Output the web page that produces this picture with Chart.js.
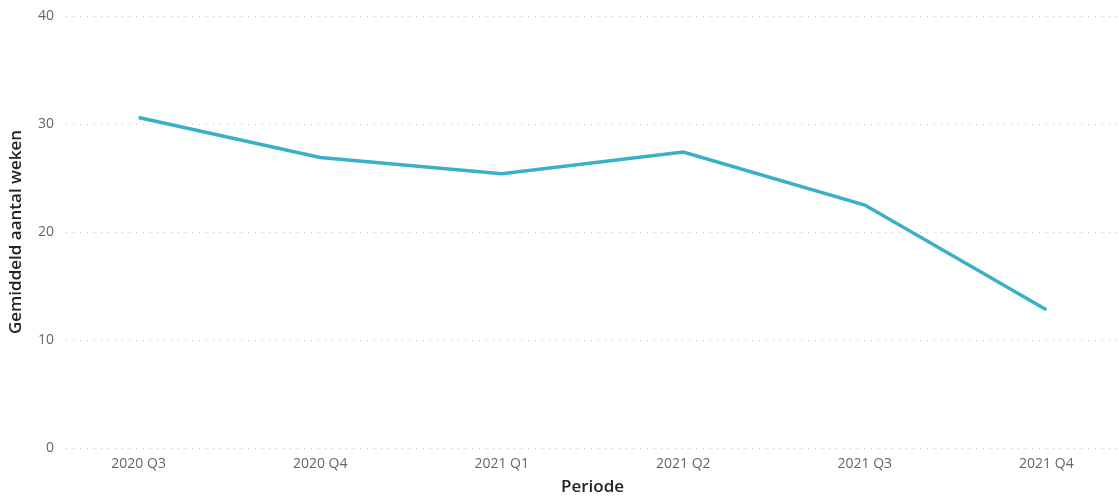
<!DOCTYPE html>
<html>
<head>
<meta charset="utf-8">
<script src="https://cdn.jsdelivr.net/npm/chart.js@4"></script>
<style>
  body { margin: 0; background: #fff; }
  #wrap { width: 1119px; height: 497px; }
</style>
</head>
<body>
<div id="wrap"><canvas id="chart"></canvas></div>
<script>
// data
const periods = ["2020 Q3", "2020 Q4", "2021 Q1", "2021 Q2", "2021 Q3", "2021 Q4"];
const avgWeeks = [30.6, 26.9, 25.4, 27.4, 22.5, 12.8];
const yTicks = [0, 10, 20, 30, 40];

const font = "'Segoe UI', 'Open Sans', 'DejaVu Sans', sans-serif";

// points on a linear x scale so the plot can keep the side padding
let points = periods.map((p, i) => ({x: i, y: avgWeeks[i]}));

new Chart(document.getElementById('chart'), {
	type: 'line',
	data: {
		datasets: [{
			label: 'Gemiddeld aantal weken',
			data: points,
			borderColor: '#3AAFC8',
			borderWidth: 3.5,
			pointRadius: 0,
			tension: 0,
			fill: false
		}]
	},
	options: {
		responsive: true,
		maintainAspectRatio: false,
		animation: false,
		layout: { padding: { top: 16, right: 0 } },
		plugins: {
			legend: { display: false },
			tooltip: { enabled: false }
		},
		scales: {
			x: {
				type: 'linear',
				min: -0.4,
				max: periods.length - 1 + 0.4,
				afterBuildTicks: (axis) => {
					axis.ticks = periods.map((p, i) => ({value: i}));
				},
				afterFit: (axis) => { axis.height = 49; },
				grid: { display: false, drawTicks: false },
				border: { display: false },
				ticks: {
					color: '#666',
					font: { family: font, size: 14 },
					padding: 8,
					maxRotation: 0,
					autoSkip: false,
					callback: (v) => periods[v]
				},
				title: {
					display: true,
					text: 'Periode',
					color: '#252423',
					font: { family: font, size: 17, weight: '600' },
					padding: { top: 0, bottom: 0 }
				}
			},
			y: {
				min: 0,
				max: 40,
				afterBuildTicks: (axis) => {
					axis.ticks = yTicks.map(v => ({value: v}));
				},
				afterFit: (axis) => {
					axis.width = 66;
					axis.paddingTop = 0;
				},
				grid: {
					color: '#c4c4c4',
					lineWidth: 1,
					drawTicks: false
				},
				border: { display: false, dash: [1, 6] },
				ticks: {
					color: '#666',
					font: { family: font, size: 14 },
					padding: 12
				},
				title: {
					display: true,
					text: 'Gemiddeld aantal weken',
					color: '#252423',
					font: { family: font, size: 17, weight: '600' },
					padding: { top: 6, bottom: 4 }
				}
			}
		}
	}
});
</script>
</body>
</html>
